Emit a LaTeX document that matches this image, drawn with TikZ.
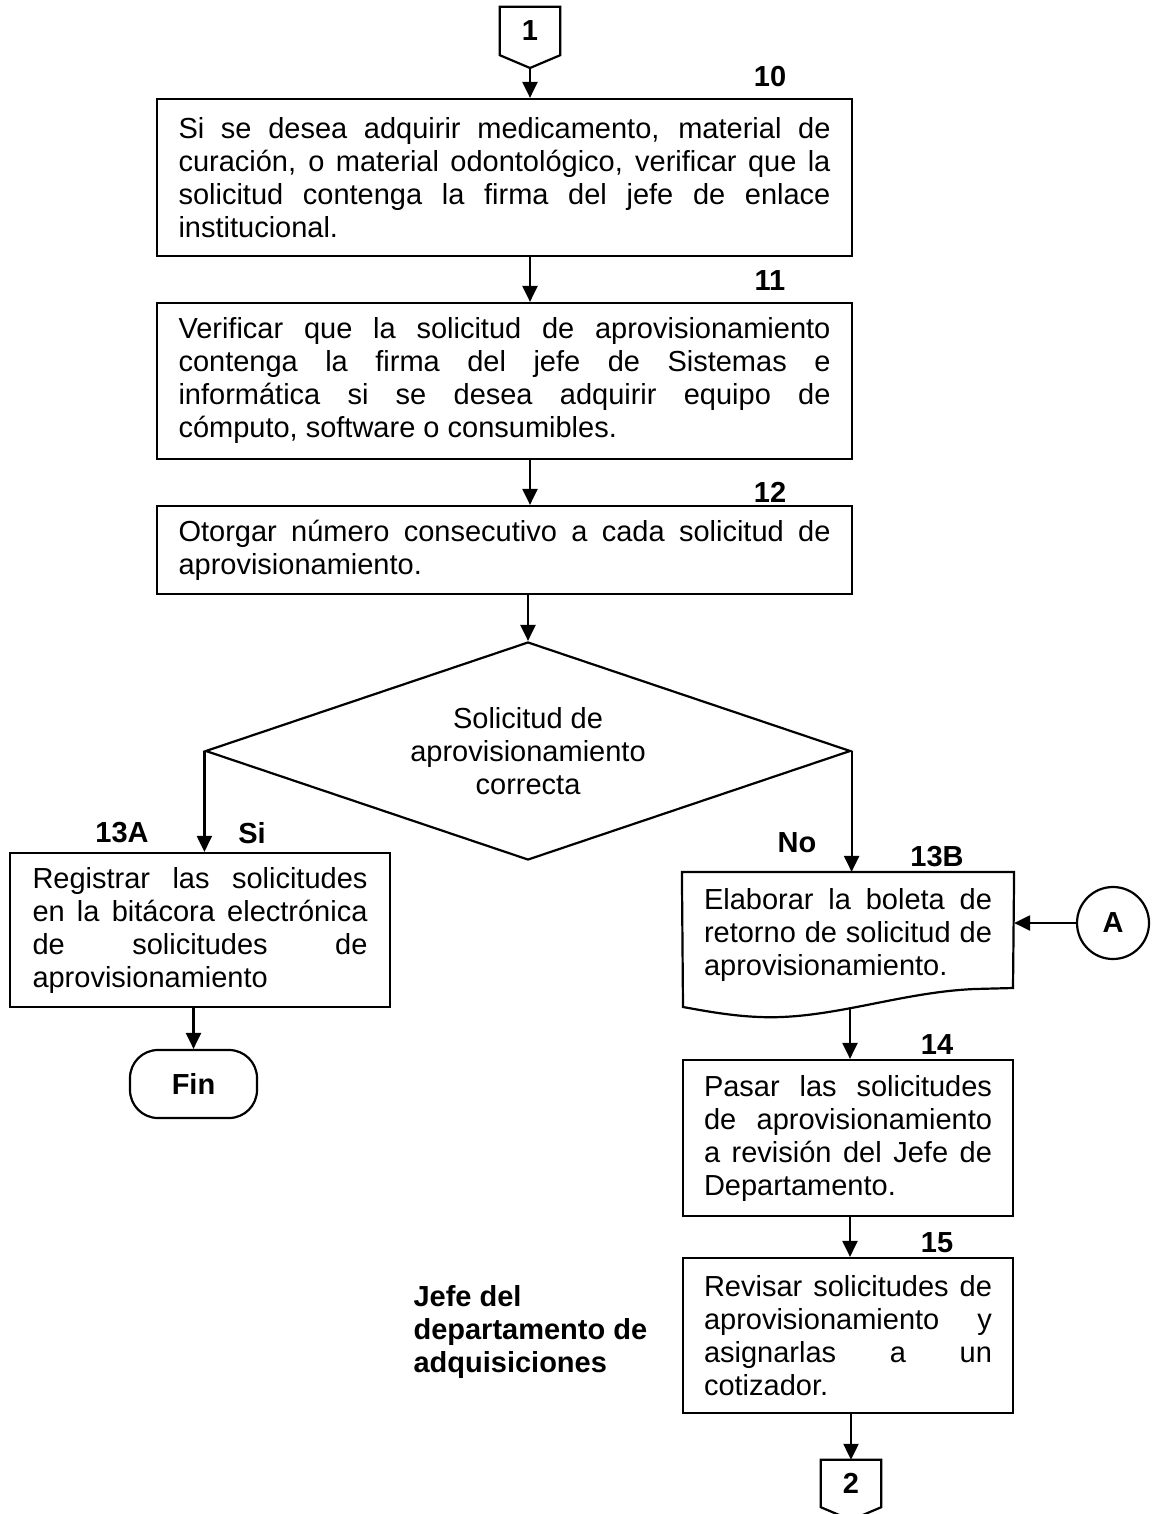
\documentclass[tikz,border=0pt]{standalone}
\usepackage{fontspec}
\setmainfont{Liberation Sans}
\usetikzlibrary{arrows.meta,shapes.geometric,calc}
\setlength\parindent{0pt}
\newcommand\JL[1]{\leavevmode\hbox to\hsize{\spaceskip=0pt\xspaceskip=0pt #1}}
\newcommand\NL[1]{\leavevmode\hbox{\spaceskip=0pt\xspaceskip=0pt #1}}
\begin{document}
\begin{tikzpicture}[x=1pt,y=-1pt,
  every node/.style={font=\fontsize{29}{33}\selectfont},
  ln/.style={line width=2.2pt, line join=miter},
  lbl/.style={font=\fontsize{29}{33}\selectfont\bfseries},
  wbox/.style={draw, ln, rectangle, align=left, text width=652pt, inner xsep=21.5pt, inner ysep=0pt},
  nbox/.style={draw, ln, rectangle, align=left, text width=288pt, inner xsep=21pt, inner ysep=0pt},
  abox/.style={draw, ln, rectangle, align=left, text width=335pt, inner xsep=22.5pt, inner ysep=0pt},
  arr/.style={line width=2.2pt, -{Triangle[length=16pt,width=15pt]}}]
\fill[white] (0,0) rectangle (1151,1514);
\useasboundingbox (0,0) rectangle (1151,1514);

% connector 1
\node[lbl, minimum width=60pt, minimum height=48pt, inner sep=0pt] (c1) at (530,31) {1};
\coordinate (c1tip) at (530,68);
\draw[ln] (c1.north west) -- (c1.north east) -- (c1.south east) -- (c1tip) -- (c1.south west) -- cycle;

% boxes
\node[wbox, minimum height=157pt] (b10) at (504.5,177.5)
 {\JL{Si se desea adquirir medicamento, material de}\\
  \JL{curación, o material odontológico, verificar que la}\\
  \JL{solicitud contenga la firma del jefe de enlace}\\
  \NL{institucional.}};
\node[wbox, minimum height=156pt] (b11) at (504.5,381)
 {\JL{Verificar que la solicitud de aprovisionamiento}\\
  \JL{contenga la firma del jefe de Sistemas e}\\
  \JL{informática si se desea adquirir equipo de}\\
  \NL{cómputo, software o consumibles.}};
\node[wbox, minimum height=88pt] (b12) at (504.5,550)
 {\JL{Otorgar número consecutivo a cada solicitud de}\\
  \NL{aprovisionamiento.}};

\node[diamond, draw, ln, aspect=3, minimum width=645pt, minimum height=218pt, inner sep=0pt, align=center] (dec) at (528,751)
 {Solicitud de\\aprovisionamiento\\correcta};

\node[abox, minimum height=154pt] (b13a) at (200,930)
 {\JL{Registrar las solicitudes}\\
  \JL{en la bitácora electrónica}\\
  \JL{de solicitudes de}\\
  \NL{aprovisionamiento}};

\node[rectangle, rounded corners=28pt, draw, ln, minimum width=127pt, minimum height=68pt, inner sep=0pt, lbl] (fin) at (193.5,1084) {Fin};

\node[nbox, draw=none, minimum height=124pt] (b13) at (848,935)
 {\JL{Elaborar la boleta de}\\
  \JL{retorno de solicitud de}\\
  \NL{aprovisionamiento.}};
\draw[ln] (b13.north west) -- (b13.north east) -- (1013,988) -- (975,989)
  .. controls (900,992) and (830,1020) .. (760,1017)
  .. controls (730,1016) and (700,1010) .. (683,1007) -- cycle;
\coordinate (b13bot) at (850,1008);

\node[circle, draw, ln, minimum size=72pt, inner sep=0pt, lbl] (A) at (1113,923) {A};

\node[nbox, minimum height=156pt] (b14) at (848,1138)
 {\JL{Pasar las solicitudes}\\
  \JL{de aprovisionamiento}\\
  \JL{a revisión del Jefe de}\\
  \NL{Departamento.}};
\node[nbox, minimum height=155pt] (b15) at (848,1335.5)
 {\JL{Revisar solicitudes de}\\
  \JL{aprovisionamiento y}\\
  \JL{asignarlas a un}\\
  \NL{cotizador.}};

% connector 2
\node[lbl, minimum width=60pt, minimum height=47pt, inner sep=0pt] (c2) at (851,1483.5) {2};
\coordinate (c2tip) at (851,1520);
\draw[ln] (c2.north west) -- (c2.north east) -- (c2.south east) -- (c2tip) -- (c2.south west) -- cycle;

% labels
\node[lbl] (n10) at (770,77) {10};
\node[lbl] (n11) at (770,281) {11};
\node[lbl] (n12) at (770,492) {12};
\node[lbl] (n13a) at (122,833) {13A};
\node[lbl] (si) at (252,833) {Si};
\node[lbl] (no) at (797,843) {No};
\node[lbl] (n13b) at (937,857) {13B};
\node[lbl] (n14) at (937,1045) {14};
\node[lbl] (n15) at (937,1243) {15};
\node[lbl, anchor=west, align=left] (jefe) at (410,1332) {Jefe del\\departamento de\\adquisiciones};

% connectors
\draw[arr] (c1tip) -- (c1tip |- b10.north);
\draw[arr] (b10.south -| c1tip) -- (b11.north -| c1tip);
\draw[arr] (b11.south -| c1tip) -- (b12.north -| c1tip);
\draw[arr] (b12.south -| dec.north) -- (dec.north);
\draw[arr] (dec.west) -- (dec.west |- b13a.north);
\draw[arr] (dec.east) -- (dec.east |- b13.north);
\draw[arr] (fin.north |- b13a.south) -- (fin.north);
\draw[arr] (A.west) -- (A.west -| b13.east);
\draw[arr] (b13bot) -- (b13bot |- b14.north);
\draw[arr] (b14.south -| b13bot) -- (b15.north -| b13bot);
\draw[arr] (c2.north |- b15.south) -- (c2.north);
\end{tikzpicture}
\end{document}
